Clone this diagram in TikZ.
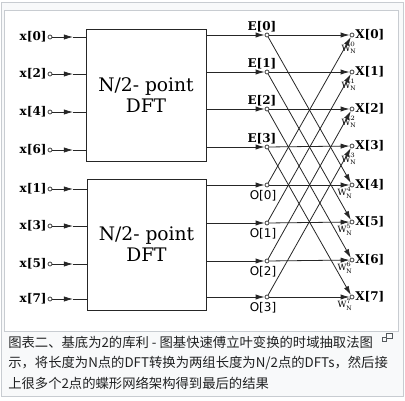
\documentclass[tikz,border=0pt]{standalone}
\usepackage{fontspec}
\setmainfont{DejaVu Serif}
\newfontfamily\cjk{Noto Sans CJK SC}
\newfontfamily\dsans{DejaVu Sans}
\usetikzlibrary{arrows.meta}
\definecolor{framecol}{HTML}{C8CCD1}
\definecolor{bgcol}{HTML}{F8F9FA}
\definecolor{captext}{HTML}{202122}
\definecolor{iconcol}{HTML}{54595D}
\tikzset{
  wire/.style={line width=0.6pt, draw=black!85},
  dot/.style={circle, draw=black!85, line width=0.5pt, fill=white, inner sep=0pt, minimum size=3pt},
  arr/.style={-{Latex[length=6.75pt,width=3.9pt]}},
  lbl/.style={font=\bfseries\fontsize{9}{10}\selectfont, inner sep=0.6pt},
  olbl/.style={font=\dsans\fontsize{9}{10}\selectfont, inner sep=0pt},
  wl/.style={font=\fontsize{6.5}{6.5}\selectfont, inner sep=0pt},
  dftbox/.style={draw=black!85, line width=0.7pt, align=center, font=\fontsize{14}{15.75}\selectfont, inner sep=0pt},
  captionline/.style={font=\cjk\fontsize{10}{12}\selectfont, text=captext, anchor=west, inner sep=0pt},
}
\newcommand{\twid}[1]{$\mathrm{W}_{\mathrm{N}}^{#1}$}
\begin{document}
\begin{tikzpicture}[x=0.75pt,y=-0.75pt]
\useasboundingbox (0,0) rectangle (405,401);
\fill[white] (0,0) rectangle (405,401);
\draw[framecol, fill=bgcol, line width=0.75pt] (1.5,2.5) rectangle (403.5,396.5);
\draw[framecol, fill=white, line width=0.75pt] (5,10) rectangle (398.5,331.5);

% DFT boxes
\node[dftbox, minimum width=90pt, minimum height=99pt] (top) at (146,95) {N/2- point\\DFT};
\node[dftbox, minimum width=89.25pt, minimum height=98.25pt] (bot) at (146.5,244.5) {N/2- point\\DFT};

% inputs, top box
\foreach \n/\y in {0/37,2/74,4/112,6/150}{
  \node[dot] (in\n) at (50,\y) {};
  \node[lbl, anchor=east] (lx\n) at (in\n.west) {x[\n]};
  \coordinate (ia\n) at (73,\y);
  \draw[wire,arr] (in\n) -- (ia\n);
  \draw[wire] (ia\n) -- (top.west |- ia\n);
}
% inputs, bottom box
\foreach \n/\y in {1/189,3/226,5/264,7/299}{
  \node[dot] (in\n) at (50,\y) {};
  \node[lbl, anchor=east] (lx\n) at (in\n.west) {x[\n]};
  \coordinate (ia\n) at (73,\y);
  \draw[wire,arr] (in\n) -- (ia\n);
  \draw[wire] (ia\n) -- (bot.west |- ia\n);
}

% E and O nodes
\foreach \k/\y in {0/35,1/72,2/109,3/147}{
  \node[dot] (E\k) at (267,\y) {};
  \node[lbl] (lE\k) at (262,\y-8.5) {E[\k]};
  \coordinate (eo\k) at (top.east |- E\k);
  \draw[wire,arr] (eo\k) -- (E\k);
}
\foreach \k/\y in {0/185,1/223,2/261,3/297}{
  \node[dot] (O\k) at (267,\y) {};
  \node[olbl] (lO\k) at (263,\y+10.5) {O[\k]};
  \coordinate (oo\k) at (bot.east |- O\k);
  \draw[wire,arr] (oo\k) -- (O\k);
}

% X outputs
\foreach \k/\y in {0/35,1/72,2/109,3/146}{
  \node[dot] (X\k) at (352,\y) {};
  \node[lbl, anchor=west] (lX\k) at (X\k.east) {X[\k]};
  \node[wl] (W\k) at (349,\y+13) {\twid{\k}};
}
\foreach \k/\y in {4/185,5/222,6/260,7/297}{
  \node[dot] (X\k) at (352,\y) {};
  \node[lbl, anchor=west] (lX\k) at (X\k.east) {X[\k]};
  \node[wl] (W\k) at (345,\y+7.5) {\twid{\k}};
}

% butterflies
\foreach \k [evaluate=\k as \m using int(\k+4)] in {0,1,2,3}{
  \draw[wire,arr] (E\k) -- (X\k);
  \draw[wire,arr] (O\k) -- (X\m);
  \draw[wire,arr] (E\k) -- (X\m);
  \draw[wire,arr] (O\k) -- (X\k);
}

% caption
\node[captionline] (c1) at (8,342.5) {图表二、基底为2的库利 - 图基快速傅立叶变换的时域抽取法图};
\node[captionline] (c2) at (8,363) {示，将长度为N点的DFT转换为两组长度为N/2点的DFTs，然后接};
\node[captionline] (c3) at (8,383.5) {上很多个2点的蝶形网络架构得到最后的结果};

% enlarge icon
\draw[iconcol, line width=0.75pt] (386.5,333.5) rectangle (392.5,338.5);
\draw[iconcol, line width=0.75pt, fill=bgcol] (382.5,337.5) rectangle (386.5,341.5);
\end{tikzpicture}
\end{document}
